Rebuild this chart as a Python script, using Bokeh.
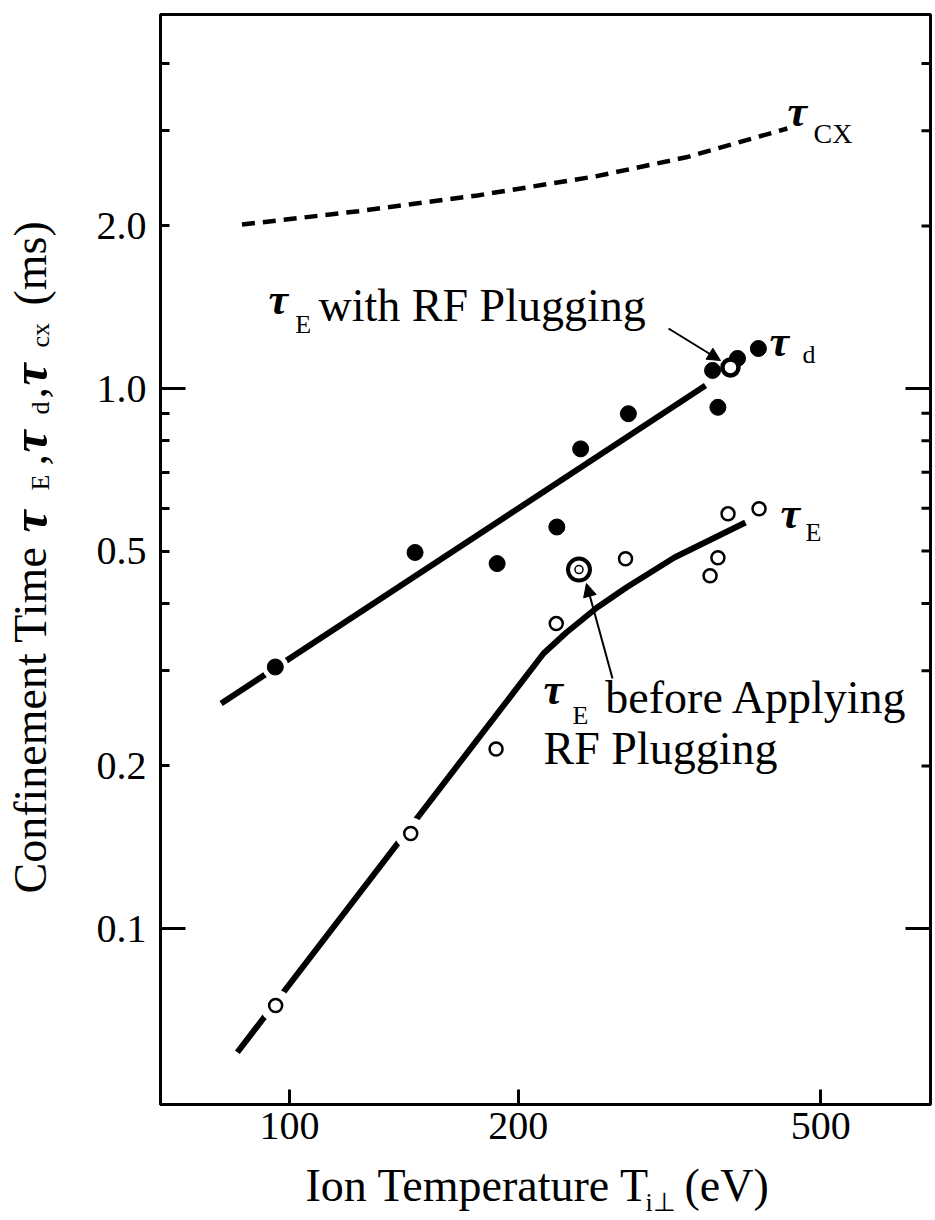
import math
from bokeh.plotting import figure
from bokeh.layouts import row, column
from bokeh.models import (Range1d, FixedTicker, Label, Arrow, NormalHead,
                          PrintfTickFormatter)
from bokeh.embed import file_html
from bokeh.resources import INLINE

# ---------------- data ----------------
# tau_d : filled circles
T_d = [95.8, 146.3, 187.6, 224.8, 241.6, 279.2, 366.2, 360.3, 388.6, 414.0]
tau_d = [0.305, 0.497, 0.474, 0.554, 0.773, 0.898, 0.923, 1.080, 1.137, 1.186]
# tau_E : open circles
T_E = [95.9, 144.4, 187.0, 224.4, 276.8, 357.6, 366.2, 377.6, 414.8]
tau_E = [0.072, 0.150, 0.215, 0.367, 0.484, 0.450, 0.486, 0.586, 0.599]
# tau_E before applying RF plugging (double ring)
T_E_before = [240.4]
tau_E_before = [0.462]
# tau_E with RF plugging (heavy ring)
T_E_rf = [380.4]
tau_E_rf = [1.094]
# fitted curves
fit_d_T = [81.3, 352.7]
fit_d_tau = [0.261, 1.013]
fit_E_T = [85.4, 215.9, 231.4, 254.0, 277.5, 321.0, 398.1]
fit_E_tau = [0.0590, 0.3231, 0.3533, 0.3930, 0.4280, 0.4864, 0.5647]
# tau_cx (dashed)
cx_T = [86.6, 123.3, 176.8, 253.6, 332.6, 451.9]
cx_tau = [2.012, 2.13, 2.278, 2.473, 2.68, 3.03]

# points sitting on the fitted lines (drawn with a white gap round them)
gap_d = [0]
gap_E = [0, 1]

x_ticks = [100, 200, 500]
y_ticks = [0.1, 0.2, 0.5, 1.0, 2.0]
y_minor = [0.3, 0.4, 0.6, 0.7, 0.8, 0.9, 3.0, 4.0]
y_decades = [0.1, 1.0]

FONT = "Liberation Serif"
TAU = "\u03c4"

W, H = 935, 1220
LEFT_W = 86
BOTTOM_H = 60
BL, BR, BT, BB = 74, 5, 14, 56     # borders of the main plot
Y0, Y1 = 0.04722, 4.927
FRAME_H = H - BOTTOM_H - BT - BB
PX_PER_DEC = FRAME_H / math.log10(Y1 / Y0)
BASE_FIX = 0.32                     # keeps the alphabetic baseline where it is asked for


def lab(fig, x, y, text, size, style="normal", angle=0.0, logy=False):
    s = BASE_FIX * size
    if angle:
        x = x - s
    elif logy:
        y = y * 10 ** (s / PX_PER_DEC)
    else:
        y = y + s
    fig.add_layout(Label(x=x, y=y, text=text, text_font=FONT,
                         text_font_size=f"{size}px", text_font_style=style,
                         text_color="black", text_align="left",
                         text_baseline="alphabetic", angle=angle))


# ---------------- main plot ----------------
p = figure(width=W - LEFT_W, height=H - BOTTOM_H, x_axis_type="log", y_axis_type="log",
           x_range=Range1d(67.66, 697.3), y_range=Range1d(Y0, Y1),
           output_backend="svg", toolbar_location=None,
           min_border_left=BL, min_border_right=BR, min_border_top=BT,
           min_border_bottom=BB)
p.grid.visible = False
p.outline_line_color = "black"
p.outline_line_width = 3
p.background_fill_color = "white"
p.border_fill_color = "white"

xa = p.xaxis[0]
xa.ticker = FixedTicker(ticks=x_ticks, minor_ticks=[])
xa.formatter = PrintfTickFormatter(format="%d")
ya = p.yaxis[0]
ya.ticker = FixedTicker(ticks=y_ticks, minor_ticks=y_minor)
ya.formatter = PrintfTickFormatter(format="%.1f")

for ax in (xa, ya):
    ax.axis_line_width = 3
    ax.axis_line_color = "black"
    ax.major_tick_line_width = 3
    ax.minor_tick_line_width = 3
    ax.major_tick_out = 0
    ax.minor_tick_out = 0
    ax.major_tick_in = 9
    ax.minor_tick_in = 9
    ax.major_label_text_font = FONT
    ax.major_label_text_font_size = "40px"
    ax.major_label_text_color = "black"
xa.major_tick_in = 15
xa.major_label_standoff = 8
ya.major_label_standoff = 14

# long decade ticks on the left, mirrored tick marks on the right frame edge
p.ray(x=[p.x_range.start] * len(y_decades), y=y_decades, length=25,
      length_units="screen", angle=0, line_width=3, line_color="black")
p.ray(x=[p.x_range.end] * len(y_decades), y=y_decades, length=25,
      length_units="screen", angle=math.pi, line_width=3, line_color="black")
right_ticks = y_ticks + y_minor
p.ray(x=[p.x_range.end] * len(right_ticks), y=right_ticks, length=9,
      length_units="screen", angle=math.pi, line_width=3, line_color="black")

# curves
p.line(fit_d_T, fit_d_tau, line_width=6, line_color="black")
p.line(fit_E_T, fit_E_tau, line_width=6, line_color="black", line_join="round")
p.line(cx_T, cx_tau, line_width=4.5, line_color="black", line_dash="13 8")

# white gaps round points that sit on the lines
p.scatter([T_d[i] for i in gap_d], [tau_d[i] for i in gap_d], size=26,
          fill_color="white", line_color=None)
p.scatter([T_E[i] for i in gap_E], [tau_E[i] for i in gap_E], size=32,
          fill_color="white", line_color=None)

# markers
p.scatter(T_d, tau_d, size=16, fill_color="black", line_color="black")
p.scatter(T_E, tau_E, size=13, fill_color="white", line_color="black", line_width=2.5)
p.scatter(T_E_before, tau_E_before, size=22, fill_color="white", line_color="black", line_width=4)
p.scatter(T_E_before, tau_E_before, size=8, fill_color="white", line_color="black", line_width=1.5)
p.scatter(T_E_rf, tau_E_rf, size=16, fill_color="white", line_color="black", line_width=4.5)

# arrows
p.add_layout(Arrow(end=NormalHead(size=13, fill_color="black", line_color="black"),
                   x_start=315.3, y_start=1.2915, x_end=369.1, y_end=1.1268,
                   line_width=2, line_color="black"))
p.add_layout(Arrow(end=NormalHead(size=13, fill_color="black", line_color="black"),
                   x_start=266.1, y_start=0.2904, x_end=245.9, y_end=0.4353,
                   line_width=2, line_color="black"))

# annotations in the plot
lab(p, 93.84, 1.377, TAU, 44, "bold italic", logy=True)
lab(p, 101.8, 1.27, "E", 26, logy=True)
lab(p, 109.2, 1.3366, "with RF Plugging", 46, logy=True)

lab(p, 215.9, 0.261, TAU, 44, "bold italic", logy=True)
lab(p, 235.7, 0.2397, "E", 26, logy=True)
lab(p, 260.4, 0.2512, "before Applying", 46, logy=True)
lab(p, 215.9, 0.2021, "RF Plugging", 46, logy=True)

lab(p, 428.1, 1.151, TAU, 44, "bold italic", logy=True)
lab(p, 473.2, 1.117, "d", 26, logy=True)

lab(p, 442.7, 0.5529, TAU, 44, "bold italic", logy=True)
lab(p, 477.4, 0.5232, "E", 26, logy=True)

lab(p, 452.1, 3.069, TAU, 44, "bold italic", logy=True)
lab(p, 489.2, 2.854, "CX", 28, logy=True)


def strip(width, height, xr, yr, **kw):
    f = figure(width=width, height=height, x_range=xr, y_range=yr,
               output_backend="svg", toolbar_location=None,
               x_axis_location=None, y_axis_location=None, **kw)
    f.grid.visible = False
    f.outline_line_color = None
    f.background_fill_color = "white"
    f.border_fill_color = "white"
    return f


# ---------------- y-axis title strip (page pixels, y measured from top) ----------------
ly = strip(LEFT_W, H, Range1d(0, LEFT_W), Range1d(0, H), min_border=0)
A = math.pi / 2
XB, XS = 45, 48
lab(ly, XB, H - 893, "Confinement Time", 46, angle=A)
lab(ly, XB, H - 532, TAU, 50, "bold italic", angle=A)
lab(ly, XS, H - 490, "E", 26, angle=A)
lab(ly, XB, H - 465, ",", 46, angle=A)
lab(ly, XB, H - 452, TAU, 50, "bold italic", angle=A)
lab(ly, XS, H - 414, "d", 26, angle=A)
lab(ly, XB, H - 398, ",", 46, angle=A)
lab(ly, XB, H - 385, TAU, 50, "bold italic", angle=A)
lab(ly, XS, H - 347, "cx", 26, angle=A)
lab(ly, XB, H - 305, "(ms)", 46, angle=A)

# ---------------- x-axis title strip (frame aligned with the main frame) ----------------
lx = strip(W - LEFT_W, BOTTOM_H, Range1d(LEFT_W + BL, W - BR), Range1d(0, BOTTOM_H),
           min_border_left=BL, min_border_right=BR, min_border_top=0, min_border_bottom=0)
lab(lx, 305, H - 1200, "Ion Temperature T", 46)
lab(lx, 645, H - 1210, "i\u22a5", 26)
lab(lx, 684, H - 1200, "(eV)", 46)

layout = row(ly, column(p, lx))
open("out.html", "w").write(file_html(layout, INLINE))
